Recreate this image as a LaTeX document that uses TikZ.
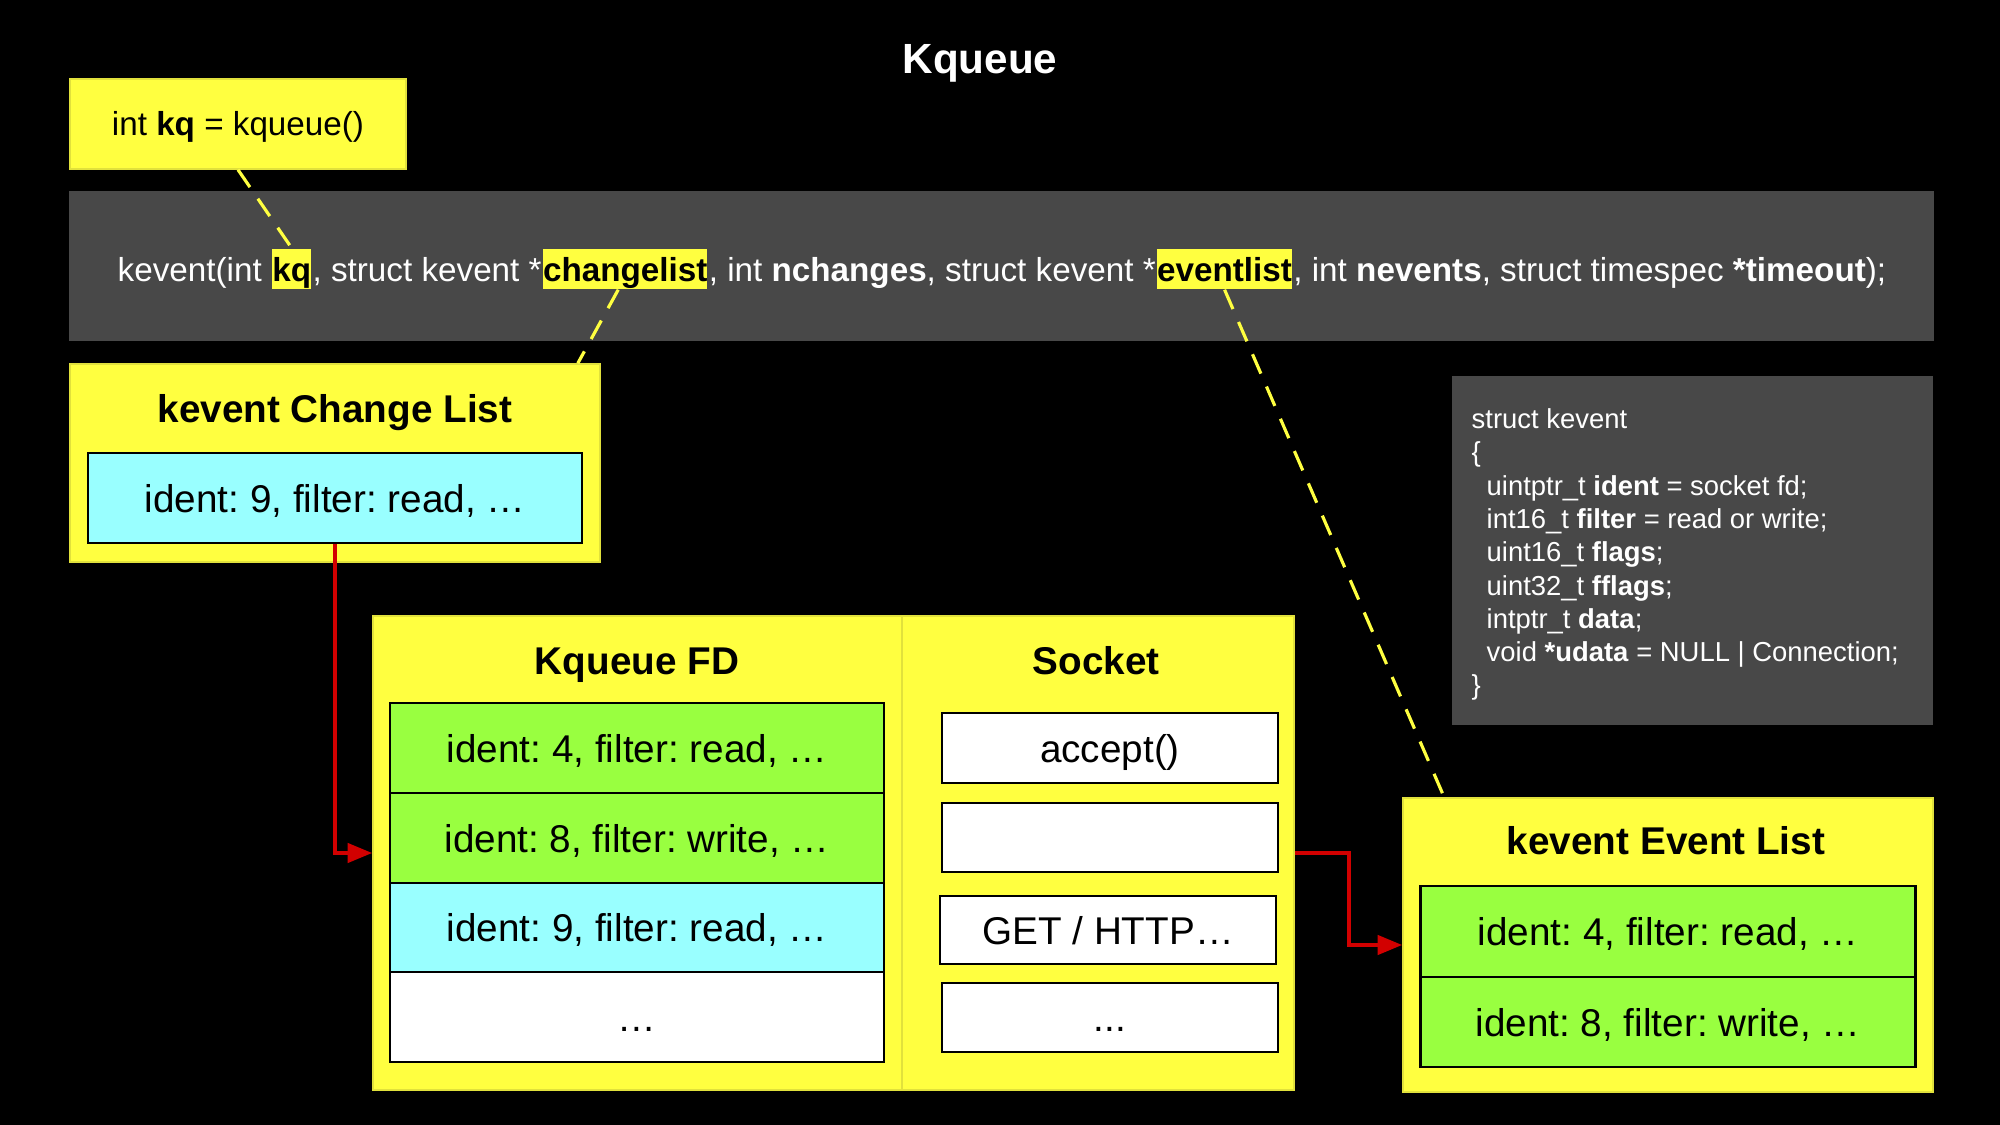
\documentclass[tikz,border=0pt]{standalone}
\usepackage{fontspec}
\setmainfont{Liberation Sans}
\usetikzlibrary{arrows.meta,calc}
\definecolor{kyellow}{RGB}{255,255,64}
\definecolor{kyedge}{RGB}{225,225,60}
\definecolor{kgreen}{RGB}{153,255,64}
\definecolor{kcyan}{RGB}{153,255,255}
\definecolor{kgray}{RGB}{72,72,72}
\definecolor{kred}{RGB}{210,0,0}
\frenchspacing
\begin{document}
\begin{tikzpicture}[x=0.01cm,y=-0.01cm,
  ybox/.style={fill=kyellow, draw=kyedge, line width=0.4pt, inner sep=0pt},
  cell/.style={draw=black, line width=0.7pt, inner sep=0pt, text=black, text height=0.28cm, text depth=0pt, font=\fontsize{11}{13}\selectfont},
  ttl/.style={text=black, inner sep=0pt, text height=0.28cm, text depth=0pt, font=\fontsize{11}{13}\selectfont\bfseries},
  ctext/.style={text=white, inner sep=0pt, anchor=base west, font=\fontsize{9.45}{11}\selectfont},
  hl/.style={fill=kyellow, text=black, inner sep=0pt, anchor=base west, text height=0.33cm, text depth=0.07cm, font=\fontsize{9.45}{11}\selectfont\bfseries},
  ydash/.style={draw=kyellow, line width=0.9pt, dash pattern=on 6pt off 4pt},
  rarrow/.style={draw=kred, line width=1pt, -{Triangle[length=7pt,width=5.5pt]}}
]
\useasboundingbox (0,0) rectangle (2000,1125);
\fill[black] (0,0) rectangle (2000,1125);

% title
\node[text=white, inner sep=0pt, text height=0.30cm, text depth=0pt, font=\fontsize{12}{14}\selectfont\bfseries] (title) at (980,59) {Kqueue};

% kq box
\node[ybox, minimum width=3.36cm, minimum height=0.90cm, text=black, text height=0.24cm, text depth=0pt, font=\fontsize{9.45}{11}\selectfont] (kqbox) at (238,124) {int \textbf{kq} = kqueue()};

% kevent call bar
\node[fill=kgray, inner sep=0pt, minimum width=18.63cm, minimum height=1.50cm] (callbar) at (1001.5,266) {};
\node[ctext] (c1) at (117,282) {kevent(int\ \mbox{}};
\node[hl] (h1) at (c1.base east) {kq};
\node[ctext] (c2) at (h1.base east) {, struct kevent *};
\node[hl] (h2) at (c2.base east) {changelist};
\node[ctext] (c3) at (h2.base east) {, int \textbf{nchanges}, struct kevent *};
\node[hl] (h3) at (c3.base east) {eventlist};
\node[ctext] (c4) at (h3.base east) {, int \textbf{nevents}, struct timespec \textbf{*timeout});};

% change list
\node[ybox, minimum width=5.30cm, minimum height=1.98cm] (clbox) at (335,463) {};
\node[ttl] (cltitle) at (335,408) {kevent Change List};
\node[cell, fill=kcyan, minimum width=4.94cm, minimum height=0.90cm] (clitem) at (335,498) {ident: 9, filter: read, …};

% struct kevent
\node[fill=kgray, inner sep=0pt, minimum width=4.81cm, minimum height=3.49cm] (structbox) at (1692.5,550.5) {};
\node[anchor=north west, align=left, inner sep=0pt, text=white, font=\fontsize{7.8}{9.47}\selectfont] (structtxt) at (1471,408) {struct kevent\\
\{\\
\hspace*{0.15cm}uintptr\_t \textbf{ident} = socket fd;\\
\hspace*{0.15cm}int16\_t \textbf{filter} = read or write;\\
\hspace*{0.15cm}uint16\_t \textbf{flags};\\
\hspace*{0.15cm}uint32\_t \textbf{fflags};\\
\hspace*{0.15cm}intptr\_t \textbf{data};\\
\hspace*{0.15cm}void \textbf{*udata} = NULL | Connection;\\
\}};

% Kqueue FD and Socket
\node[ybox, minimum width=5.29cm, minimum height=4.74cm] (fdbox) at (637.5,853) {};
\node[ybox, minimum width=3.92cm, minimum height=4.74cm] (sockbox) at (1098,853) {};
\node[ttl] (fdtitle) at (637,660) {Kqueue FD};
\node[ttl] (socktitle) at (1096,660) {Socket};
\node[cell, fill=kgreen, minimum width=4.94cm, minimum height=0.90cm] (fd1) at (637,748) {ident: 4, filter: read, …};
\node[cell, fill=kgreen, minimum width=4.94cm, minimum height=0.90cm] (fd2) at (637,838) {ident: 8, filter: write, …};
\node[cell, fill=kcyan, minimum width=4.94cm, minimum height=0.89cm] (fd3) at (637,927.5) {ident: 9, filter: read, …};
\node[cell, fill=white, minimum width=4.94cm, minimum height=0.90cm] (fd4) at (637,1017) {…};
\node[cell, fill=white, minimum width=3.36cm, minimum height=0.70cm] (s1) at (1110,748) {accept()};
\node[cell, fill=white, minimum width=3.36cm, minimum height=0.69cm] (s2) at (1110,837.5) {};
\node[cell, fill=white, minimum width=3.36cm, minimum height=0.68cm] (s3) at (1108,930) {GET / HTTP…};
\node[cell, fill=white, minimum width=3.36cm, minimum height=0.69cm] (s4) at (1110,1017.5) {...};

% event list
\node[ybox, minimum width=5.30cm, minimum height=2.94cm] (evbox) at (1668,945) {};
\node[ttl] (evtitle) at (1666,840) {kevent Event List};
\node[cell, fill=kgreen, minimum width=4.95cm, minimum height=0.91cm] (ev1) at (1668,931.5) {ident: 4, filter: read, …};
\node[cell, fill=kgreen, minimum width=4.95cm, minimum height=0.90cm] (ev2) at (1668,1022) {ident: 8, filter: write, …};

% dashed connectors
\draw[ydash] (kqbox.south) -- (h1.north);
\draw[ydash] ($(h2.south)+(-7,0)$) -- ($(clbox.north east)+(-23,0)$);
\draw[ydash] (h3.south) -- ($(evbox.north west)+(42,0)$);

% red arrows
\draw[rarrow] (clitem.south) |- (fdbox.west);
\draw[rarrow] (sockbox.east) -- ++(54,0) |- (evbox.west);
\end{tikzpicture}
\end{document}
